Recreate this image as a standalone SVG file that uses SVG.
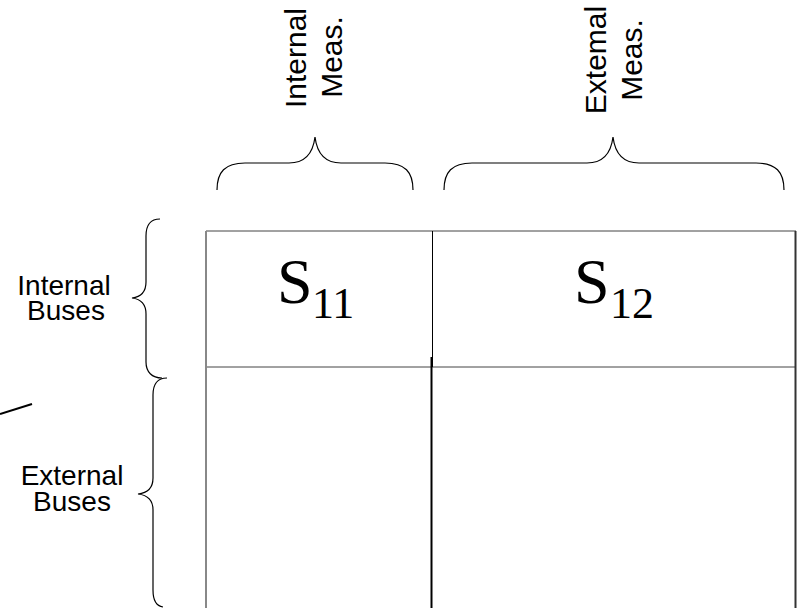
<svg xmlns="http://www.w3.org/2000/svg" width="797" height="608" viewBox="0 0 797 608">
<style>
.lbl{font-family:"Liberation Sans",Arial,sans-serif;font-size:28px;fill:#000;text-anchor:middle}
.vl{font-size:30px}
.brace{fill:none;stroke:#000;stroke-width:1.2}
.sym{font-family:"Liberation Serif","Times New Roman",serif;fill:#000}
.big{font-size:64px}
.sub{font-size:44px}
</style>
<rect width="797" height="608" fill="#fff"/>
<g id="col-internal-meas">
<text class="lbl vl" transform="translate(306,58) rotate(-90)">Internal<tspan x="1" dy="36">Meas.</tspan></text>
<path class="brace" d="M217,190 C217,172 225,163 245,163 L289,163 C305,163 313,153 315,137 C317,153 325,163 341,163 L385,163 C405,163 413,172 413,190"/>
</g>
<g id="col-external-meas">
<text class="lbl vl" transform="translate(606,60) rotate(-90)">Extemal<tspan x="0" dy="36">Meas.</tspan></text>
<path class="brace" d="M444,190 C444,172 452,163 472,163 L587,163 C603,163 611,153 613,137 C615,153 623,163 639,163 L756,163 C776,163 784,172 784,190"/>
</g>
<g id="row-internal-buses">
<text class="lbl" x="64" y="295">Internal<tspan x="66" dy="25">Buses</tspan></text>
<path class="brace" d="M160,219 C150,219 146,226 146,236 L146,282 C146,292 140,297 132,298 C140,299 146,304 146,314 L146,362 C146,372 152,378 162,378"/>
</g>
<g id="row-external-buses">
<text class="lbl" x="72" y="485">External<tspan x="72" dy="26">Buses</tspan></text>
<path class="brace" d="M167,378 C157,378 153,385 153,395 L153,478 C153,488 147,493 138,494 C147,495 153,500 153,510 L153,590 C153,600 156,606 163,607"/>
</g>
<g id="grid">
<line x1="206" y1="231" x2="796" y2="231" stroke="#444" stroke-width="1"/>
<line x1="206" y1="367" x2="796" y2="367" stroke="#444" stroke-width="1"/>
<line x1="206" y1="231" x2="206" y2="608" stroke="#888" stroke-width="2"/>
<line x1="795.5" y1="231" x2="795.5" y2="608" stroke="#333" stroke-width="2"/>
<line x1="432.5" y1="231" x2="432.5" y2="367" stroke="#000" stroke-width="1"/>
<line x1="431.5" y1="357" x2="431.5" y2="608" stroke="#000" stroke-width="2"/>
</g>
<g id="cell-s11">
<text class="sym big" x="277" y="303">S<tspan class="sub" x="312" y="318">11</tspan></text>
</g>
<g id="cell-s12">
<text class="sym big" x="574" y="303">S<tspan class="sub" x="610" y="318">12</tspan></text>
</g>
<g id="cell-s21"/>
<g id="cell-s22"/>
<g id="connectors">
<line x1="0" y1="414" x2="32" y2="404" stroke="#000" stroke-width="2"/>
</g>
</svg>
